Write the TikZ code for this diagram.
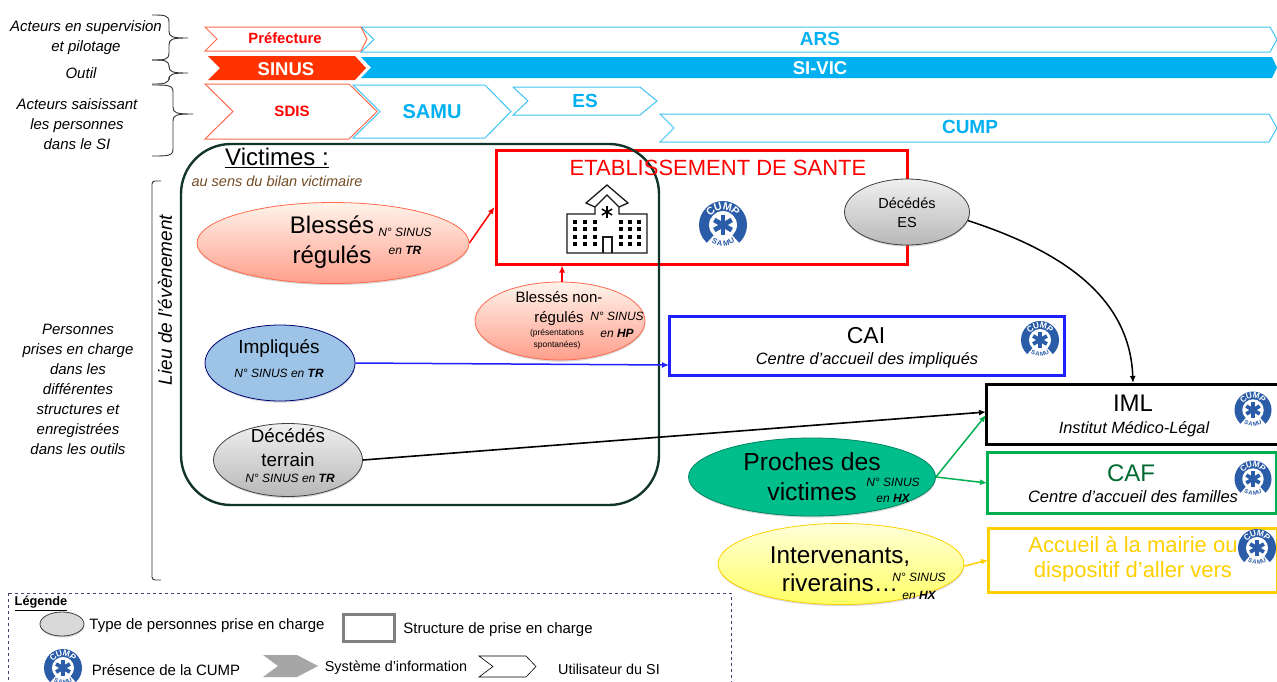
\documentclass[tikz,border=0pt]{standalone}
\usepackage{fontspec}
\setmainfont{Liberation Sans}
\usetikzlibrary{arrows.meta,shapes.geometric,shadows}
\definecolor{siblue}{HTML}{00B0F0}
\definecolor{sinusred}{HTML}{FF3300}
\definecolor{chevred}{HTML}{FF6A4D}
\definecolor{samublue}{HTML}{2A5CA8}
\definecolor{vicgreen}{HTML}{12352B}
\definecolor{cafgreen}{HTML}{00B050}
\definecolor{accgold}{HTML}{FFD000}
\definecolor{caiblue}{HTML}{2020FF}
\definecolor{implblue}{HTML}{9DC3E6}
\definecolor{prochegreen}{HTML}{00BE8C}
\newcommand{\fs}[2]{\fontsize{#1}{#2}\selectfont}
\newcommand{\chevronpath}[6]{(#1,#5) -- (#3,#5) -- (#4,{(#5+#6)/2}) -- (#3,#6) -- (#1,#6) -- (#2,{(#5+#6)/2}) -- cycle}
\newcommand{\bracepath}[6]{(#1,#4) .. controls (#2-5,#4) and (#2,#4) .. (#2,#4+7) -- (#2,#5-7) .. controls (#2,#5-1) and (#2+3,#5) .. (#3,#5) .. controls (#2+3,#5) and (#2,#5+1) .. (#2,#5+7) -- (#2,#6-7) .. controls (#2,#6) and (#2-5,#6) .. (#1,#6)}
\tikzset{
	txt/.style={inner sep=0pt, align=center},
	note/.style={txt, font=\fs{12}{18}\itshape},
	sidelabel/.style={txt, font=\fs{15}{20}\itshape},
	legendtxt/.style={txt, font=\fs{15}{16}},
	bracestyle/.style={draw=black!80, line width=0.9pt},
	bluechev/.style={draw=siblue!75, line width=1pt, fill=white},
	redchev/.style={draw=chevred, line width=1pt, fill=white},
	person/.style={ellipse, inner sep=0pt, line width=0.8pt, drop shadow={shadow xshift=0.4pt, shadow yshift=-1.6pt, opacity=0.3}},
	redperson/.style={person, draw=chevred, top color=red!12!orange!8!white, bottom color=chevred!65!white},
	greyperson/.style={person, draw=black!75, top color=black!6, bottom color=black!28},
	structbox/.style={rectangle, inner sep=0pt, line width=3pt, fill=white},
	link/.style={-{Latex[length=7pt,width=6pt]}, line width=1.5pt},
	cumplogo/.pic={
		\fill[samublue] (0,0) circle ({#1});
		\fill[white] (0,0) circle ({0.58*#1});
		\fill[white] (0,0) -- ({1.1*#1*cos(228)},{-1.1*#1*sin(228)}) arc[start angle=228, end angle=312, radius={1.1*#1}, y radius={-1.1*#1}] -- cycle;
		\foreach \ang in {90,150,30}
			\draw[samublue, line width={0.2*#1}] ({0.42*#1*cos(\ang)},{-0.42*#1*sin(\ang)}) -- ({-0.42*#1*cos(\ang)},{0.42*#1*sin(\ang)});
		\foreach \ch/\ang in {C/132,U/106,M/76,P/48}
			\node[txt, white, scale={#1/19}, rotate=\ang-90, font=\fs{8.5}{9}\bfseries] (logo\ch) at ({0.78*#1*cos(\ang)},{-0.78*#1*sin(\ang)}) {\ch};
		\foreach \ch/\ang in {S/243,A/260,M/280,U/297}
			\node[txt, samublue, scale={#1/19}, rotate=\ang+90, font=\fs{6}{6}\bfseries] (logob\ang) at ({0.76*#1*cos(\ang)},{-0.76*#1*sin(\ang)}) {\ch};
	}
}
\begin{document}
\begin{tikzpicture}[x=1pt, y=-1pt]
	\clip (0,0) rectangle (1277,681);
	\fill[white] (0,0) rectangle (1277,681);

	\foreach \xa/\xb/\xc/\xd/\ya/\yb in {361/374/1270/1277/27/52, 353/380/485/511/85/138, 513/528/640/657/87/115, 660/674/1269/1277/114/142}
		\draw[bluechev] \chevronpath{\xa}{\xb}{\xc}{\xd}{\ya}{\yb};
	\foreach \xa/\xb/\xc/\xd/\ya/\yb in {205/217/361/367/27/51, 205/233/349/377/84/139}
		\draw[redchev] \chevronpath{\xa}{\xb}{\xc}{\xd}{\ya}{\yb};
	\fill[siblue] \chevronpath{361}{371}{1272}{1277}{57}{78};
	\fill[sinusred] \chevronpath{208}{220}{355}{366}{56}{80};

	\node[txt, red, font=\fs{14.8}{16}\bfseries] (prefecture) at (285,38) {Préfecture};
	\node[txt, siblue, font=\fs{19}{20}\bfseries] (ars) at (820,39) {ARS};
	\node[txt, white, font=\fs{18.5}{20}\bfseries] (sinus) at (286,69) {SINUS};
	\node[txt, white, font=\fs{18.5}{20}\bfseries] (sivic) at (820,68) {SI-VIC};
	\node[txt, red, font=\fs{15}{16}\bfseries] (sdis) at (292,111) {SDIS};
	\node[txt, siblue, font=\fs{20}{20}\bfseries] (samu) at (432,112) {SAMU};
	\node[txt, siblue, font=\fs{19}{20}\bfseries] (es) at (585,101) {ES};
	\node[txt, siblue, font=\fs{19}{20}\bfseries] (cump) at (970,127) {CUMP};

	\node[sidelabel] (acteurspilotage) at (86,38) {Acteurs en supervision\\et pilotage};
	\node[sidelabel] (outil) at (81,73) {Outil};
	\node[sidelabel] (acteurssaisie) at (77,124) {Acteurs saisissant\\les personnes\\dans le SI};
	\node[sidelabel] (personnes) at (78,389) {Personnes\\prises en charge\\dans les\\différentes\\structures et\\enregistrées\\dans les outils};
	\node[txt, rotate=90, font=\fs{19}{20}\itshape] (lieu) at (165,300) {Lieu de l’évènement};

	\draw[bracestyle] \bracepath{152}{169}{188}{15}{38}{60};
	\draw[bracestyle] \bracepath{152}{169}{188}{60}{73}{84};
	\draw[bracestyle] \bracepath{152}{173}{193}{85}{114}{156};
	\draw[bracestyle, rounded corners=3pt] (161,181) -- (152,181) -- (152,580) -- (161,580);

	\node[structbox, draw=red, minimum width=411pt, minimum height=114pt] (etab) at (701.5,207) {};
	\draw[vicgreen, line width=2.4pt, rounded corners=50pt] (181,144) rectangle (659,505);
	\node[txt, font=\fs{24}{26}] (victimes) at (277,158) {\underline{Victimes :}};
	\node[txt, font=\fs{14.5}{16}\itshape, text=brown!60!black] (bilan) at (277,181) {au sens du bilan victimaire};
	\node[txt, red, font=\fs{22}{24}] (etabtxt) at (718,168) {ETABLISSEMENT DE SANTE};

	\node[structbox, draw=caiblue, minimum width=395pt, minimum height=59pt] (cai) at (867,345.5) {};
	\node[structbox, draw=black, minimum width=300pt, minimum height=60pt] (iml) at (1136,414) {};
	\node[structbox, draw=cafgreen, minimum width=289pt, minimum height=61pt] (caf) at (1131.5,482.5) {};
	\node[structbox, draw=accgold, minimum width=289pt, minimum height=64pt] (accueil) at (1132.5,560) {};

	\node[txt, font=\fs{23}{24}] (caititle) at (866,336) {CAI};
	\node[txt, font=\fs{16.4}{18}\itshape] (caitxt) at (867,360) {Centre d’accueil des impliqués};
	\node[txt, font=\fs{24}{26}] (imltitle) at (1133,403) {IML};
	\node[txt, font=\fs{16.3}{18}\itshape] (imltxt) at (1134,429) {Institut Médico-Légal};
	\node[txt, text=cafgreen!60!black, font=\fs{24}{26}] (caftitle) at (1131,473) {CAF};
	\node[txt, font=\fs{16.5}{18}\itshape] (caftxt) at (1133,497) {Centre d’accueil des familles};
	\node[txt, text=accgold, font=\fs{22}{25}] (accueiltxt) at (1133,559.5) {Accueil à la mairie ou\\dispositif d’aller vers};

	\node[redperson, minimum width=272pt, minimum height=81pt] (blesses) at (333,243) {};
	\node[redperson, minimum width=170pt, minimum height=78pt] (nonreg) at (560,321) {};
	\node[person, draw=blue!45!black, fill=implblue, minimum width=150pt, minimum height=76pt] (impliques) at (280,363) {};
	\node[greyperson, minimum width=149pt, minimum height=73pt] (decterrain) at (288,460) {};
	\node[greyperson, minimum width=125pt, minimum height=66pt] (deces) at (907,212) {};
	\node[person, draw=prochegreen!70!black, fill=prochegreen, minimum width=247pt, minimum height=78pt] (proches) at (812,477) {};
	\node[person, draw=accgold, top color=yellow!15, bottom color=yellow!60, minimum width=246pt, minimum height=81pt] (intervenants) at (841,564) {};

	\node[txt, font=\fs{24}{30}] (blessestxt) at (332,242) {Blessés\\régulés};
	\node[note] (blessesnote) at (405,241) {N° SINUS\\en \textbf{TR}};
	\node[txt, font=\fs{15}{20}] (nonregtxt) at (559,309) {Blessés non-\\régulés};
	\node[txt, font=\fs{8.5}{12}] (spontanees) at (557,339) {(présentations\\spontanées)};
	\node[note, font=\fs{12}{17}\itshape] (nonregnote) at (617,324.5) {N° SINUS\\en \textbf{HP}};
	\node[txt, font=\fs{19}{20}] (impltxt) at (279,348) {Impliqués};
	\node[note] (implnote) at (279,373) {N° SINUS en \textbf{TR}};
	\node[txt, font=\fs{18.8}{24}] (dectxt) at (288,448) {Décédés\\terrain};
	\node[note] (decnote) at (290,478) {N° SINUS en \textbf{TR}};
	\node[txt, font=\fs{14.5}{19}] (decestxt) at (907,212.5) {Décédés\\ES};
	\node[txt, font=\fs{24.7}{30}] (prochestxt) at (812,477) {Proches des\\victimes};
	\node[note, font=\fs{12}{16}\itshape] (prochesnote) at (893,490) {N° SINUS\\en \textbf{HX}};
	\node[txt, font=\fs{24.3}{28}] (intertxt) at (840,569) {Intervenants,\\riverains…};
	\node[note, font=\fs{12}{18}\itshape] (internote) at (919,586) {N° SINUS\\en \textbf{HX}};

	\coordinate (caiin) at (669,365);
	\coordinate (imlup) at (1133,383);
	\coordinate (imlblack) at (986,412);
	\coordinate (imlgreen) at (986,415);
	\coordinate (cafin) at (987,483);
	\coordinate (accin) at (988,560);
	\draw[link, red] (blesses.east) -- (etab.west);
	\draw[link, red] (nonreg.87) -- (nonreg.87 |- etab.south);
	\draw[link, caiblue] (impliques.east) -- (caiin);
	\draw[link, black, line width=1.6pt] (decterrain.east) -- (imlblack);
	\draw[link, black] (deces.-8) to[out=-18, in=92] (imlup);
	\draw[link, cafgreen] (proches.east) -- (imlgreen);
	\draw[link, cafgreen] (proches.east) -- (cafin);
	\draw[link, accgold] (intervenants.-1.5) -- (accin);

	\pic (logoes) at (723,225) {cumplogo=24};
	\pic (logocai) at (1040,340) {cumplogo=19};
	\pic (logoiml) at (1253,410) {cumplogo=18.5};
	\pic (logocaf) at (1253,479) {cumplogo=18.5};
	\pic (logoacc) at (1257,548) {cumplogo=19};

	\fill[white, draw=black!90, line width=1.3pt] (567,253) -- (567,214) -- (595,214) -- (595,207) -- (586,203) -- (607,185) -- (628,203) -- (619,207) -- (619,214) -- (647,214) -- (647,253) -- cycle;
	\draw[black!90, line width=1.3pt] (595,207) -- (607,195) -- (619,207);
	\draw[black!90, line width=1.3pt] (603,253) -- (603,237) -- (612,237) -- (612,253);
	\foreach \x in {573, 583, 593, 619, 628, 637}
		\foreach \y in {220, 227, 235, 242}
			\fill[black] (\x,\y) rectangle +(4,4);
	\foreach \ang in {0, 60, 120}
		\draw[black, line width=1.5pt] ({607+6*sin(\ang)},{212+6*cos(\ang)}) -- ({607-6*sin(\ang)},{212-6*cos(\ang)});

	\draw[black!60!blue!50!gray, dashed, line width=0.7pt] (8,593) rectangle (731,700);
	\node[txt, font=\fs{12.8}{14}\bfseries] (legende) at (41,603.5) {\underline{Légende}};
	\node[greyperson, top color=black!15, bottom color=black!15, minimum width=44pt, minimum height=24pt] (legperson) at (62,624) {};
	\node[legendtxt] (legpersontxt) at (207,626) {Type de personnes prise en charge};
	\node[structbox, draw=black!50, minimum width=51pt, minimum height=27pt] (legstruct) at (368.5,627.5) {};
	\node[legendtxt] (legstructtxt) at (498,630) {Structure de prise en charge};
	\pic (loglogo) at (63,668) {cumplogo=19};
	\node[legendtxt] (legcump) at (166,670) {Présence de la CUMP};
	\fill[black!35] \chevronpath{263}{278}{297}{318}{655}{677};
	\node[legendtxt, font=\fs{14.4}{16}] (legsi) at (396,668) {Système d’information};
	\draw[black, line width=0.6pt] \chevronpath{479}{493}{526}{536}{656}{677};
	\node[legendtxt, font=\fs{14.4}{16}] (leguser) at (609,669) {Utilisateur du SI};
\end{tikzpicture}
\end{document}
